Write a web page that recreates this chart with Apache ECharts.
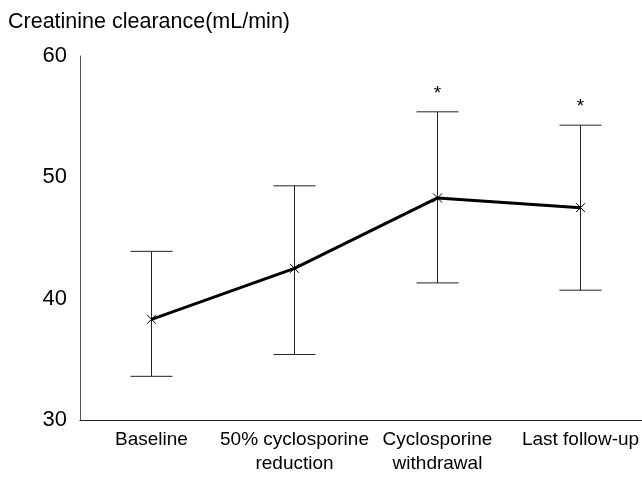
<!DOCTYPE html>
<html>
<head>
<meta charset="utf-8">
<script src="https://cdn.jsdelivr.net/npm/echarts@6/dist/echarts.min.js"></script>
<style>
  html, body { margin: 0; padding: 0; background: #fff; }
  #chart { width: 642px; height: 478px; }
</style>
</head>
<body>
<div id="chart"></div>
<script>
// values
const categories = ["Baseline", "50% cyclosporine\nreduction", "Cyclosporine\nwithdrawal", "Last follow-up"];
const means = [38.3, 42.5, 48.3, 47.5];
const upper = [43.9, 49.3, 55.4, 54.3];
const lower = [33.6, 35.4, 41.3, 40.7];
const marks = ["", "", "*", "*"];
const yTicks = [30, 40, 50, 60];

const font = "Liberation Sans, Arial, sans-serif";
const chart = echarts.init(document.getElementById("chart"));

const errData = categories.map((c, i) => [i, lower[i], upper[i], marks[i]]);

chart.setOption({
  animation: false,
  title: {
    text: "Creatinine clearance(mL/min)",
    left: 3,
    top: 6,
    textStyle: { fontFamily: font, fontSize: 21.5, fontWeight: "normal", color: "#000" },
  },
  grid: { left: 80, top: 56, width: 572, bottom: 58, outerBoundsMode: "none", containLabel: false },
  xAxis: {
    type: "category",
    data: categories,
    axisLine: { lineStyle: { color: "#222", width: 1.2 } },
    axisTick: { show: false },
    axisLabel: {
      interval: 0,
      margin: 8,
      fontFamily: font,
      fontSize: 19,
      lineHeight: 24,
      color: "#000",
    },
  },
  yAxis: {
    type: "value",
    min: yTicks[0],
    max: yTicks[yTicks.length - 1],
    interval: 10,
    splitLine: { show: false },
    axisLine: { show: true, lineStyle: { color: "#555", width: 1 } },
    axisTick: { show: false },
    axisLabel: { margin: 13, fontFamily: font, fontSize: 22, color: "#000" },
  },
  series: [
    {
      type: "custom",
      data: errData,
      z: 1,
      renderItem: (params, api) => {
        const lo = api.coord([api.value(0), api.value(1)]);
        const hi = api.coord([api.value(0), api.value(2)]);
        const half = 21;
        const style = { stroke: "#222", lineWidth: 1 };
        const children = [
          { type: "line", shape: { x1: lo[0], y1: lo[1], x2: hi[0], y2: hi[1] }, style },
          { type: "line", shape: { x1: hi[0] - half, y1: hi[1], x2: hi[0] + half, y2: hi[1] }, style },
          { type: "line", shape: { x1: lo[0] - half, y1: lo[1], x2: lo[0] + half, y2: lo[1] }, style },
        ];
        const mark = errData[params.dataIndex][3];
        if (mark) {
          children.push({
            type: "text",
            style: {
              text: mark,
              x: hi[0],
              y: hi[1] - 18,
              align: "center",
              verticalAlign: "middle",
              fontFamily: font,
              fontSize: 19,
              fill: "#000",
            },
          });
        }
        return { type: "group", children };
      },
    },
    {
      type: "line",
      data: means,
      z: 2,
      symbol: "path://M0,0L10,10M10,0L0,10",
      symbolSize: 9,
      itemStyle: { color: "none", borderColor: "#000", borderWidth: 1 },
      lineStyle: { color: "#000", width: 3 },
    },
  ],
});
</script>
</body>
</html>
